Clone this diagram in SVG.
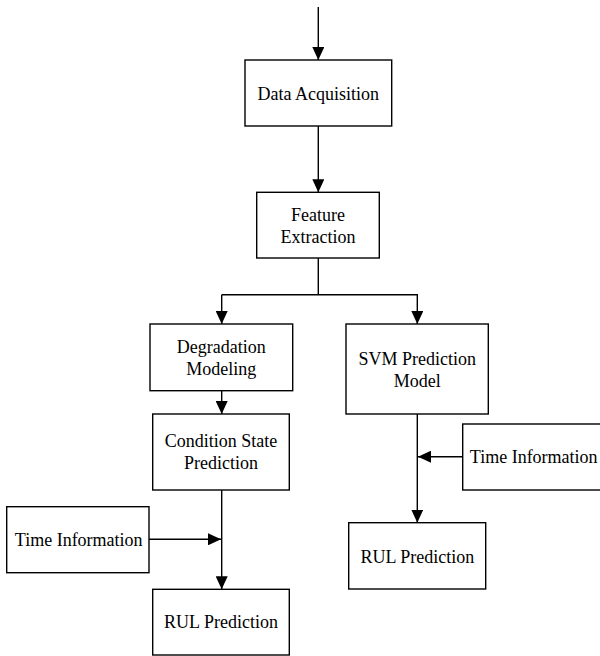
<svg xmlns="http://www.w3.org/2000/svg" width="600" height="656" viewBox="0 0 600 656">
<style>
.box{fill:#fff;stroke:#000;stroke-width:1.4}
.t{font-family:"Liberation Serif","Times New Roman",serif;font-size:18px;fill:#000;text-anchor:middle}
.c{fill:none;stroke:#000;stroke-width:1.4}
</style>
<defs>
<marker id="ah" viewBox="0 0 13 12" refX="13" refY="6" markerWidth="13" markerHeight="12" markerUnits="userSpaceOnUse" orient="auto">
<path d="M0,0 L13,6 L0,12 z" fill="#000"/>
</marker>
</defs>
<g id="connectors">
<line class="c" x1="318.3" y1="7" x2="318.3" y2="60" marker-end="url(#ah)"/>
<line class="c" x1="318.3" y1="126" x2="318.3" y2="192.3" marker-end="url(#ah)"/>
<polyline class="c" points="318.3,258 318.3,294.7"/>
<polyline class="c" points="221.7,294.7 417.3,294.7 417.3,324" marker-end="url(#ah)"/>
<path class="c" d="M221.7,294.7 L221.7,324" marker-end="url(#ah)"/>
<line class="c" x1="221.7" y1="390.7" x2="221.7" y2="414" marker-end="url(#ah)"/>
<line class="c" x1="221.7" y1="490" x2="221.7" y2="589.3" marker-end="url(#ah)"/>
<line class="c" x1="149" y1="539.3" x2="221" y2="539.3" marker-end="url(#ah)"/>
<line class="c" x1="417.3" y1="414" x2="417.3" y2="522.7" marker-end="url(#ah)"/>
<line class="c" x1="462.7" y1="456.7" x2="418" y2="456.7" marker-end="url(#ah)"/>
</g>
<g id="data-acquisition">
<rect class="box" x="245" y="60" width="146.7" height="66"/>
<text class="t" x="318.3" y="100">Data Acquisition</text>
</g>
<g id="feature-extraction">
<rect class="box" x="256.7" y="192.3" width="122.6" height="65.7"/>
<text class="t" x="318" y="220.7">Feature</text>
<text class="t" x="318" y="242.7">Extraction</text>
</g>
<g id="degradation-modeling">
<rect class="box" x="150" y="324" width="142.7" height="66.7"/>
<text class="t" x="221.3" y="353.3">Degradation</text>
<text class="t" x="221.3" y="374.5">Modeling</text>
</g>
<g id="condition-state-prediction">
<rect class="box" x="152.7" y="414" width="136.6" height="76"/>
<text class="t" x="221" y="447.3">Condition State</text>
<text class="t" x="221" y="469.3">Prediction</text>
</g>
<g id="time-information-left">
<rect class="box" x="6.7" y="506.7" width="142.3" height="66"/>
<text class="t" x="78.7" y="546">Time Information</text>
</g>
<g id="rul-prediction-left">
<rect class="box" x="152.7" y="589.3" width="136.6" height="65.7"/>
<text class="t" x="221" y="628.3">RUL Prediction</text>
</g>
<g id="svm-prediction-model">
<rect class="box" x="346" y="324" width="142.3" height="90"/>
<text class="t" x="417.3" y="365">SVM Prediction</text>
<text class="t" x="417.3" y="387.3">Model</text>
</g>
<g id="time-information-right">
<rect class="box" x="462.7" y="424" width="142.3" height="66"/>
<text class="t" x="533.7" y="463.3">Time Information</text>
</g>
<g id="rul-prediction-right">
<rect class="box" x="348.7" y="522.7" width="137" height="66.3"/>
<text class="t" x="417.3" y="563.3">RUL Prediction</text>
</g>
</svg>
